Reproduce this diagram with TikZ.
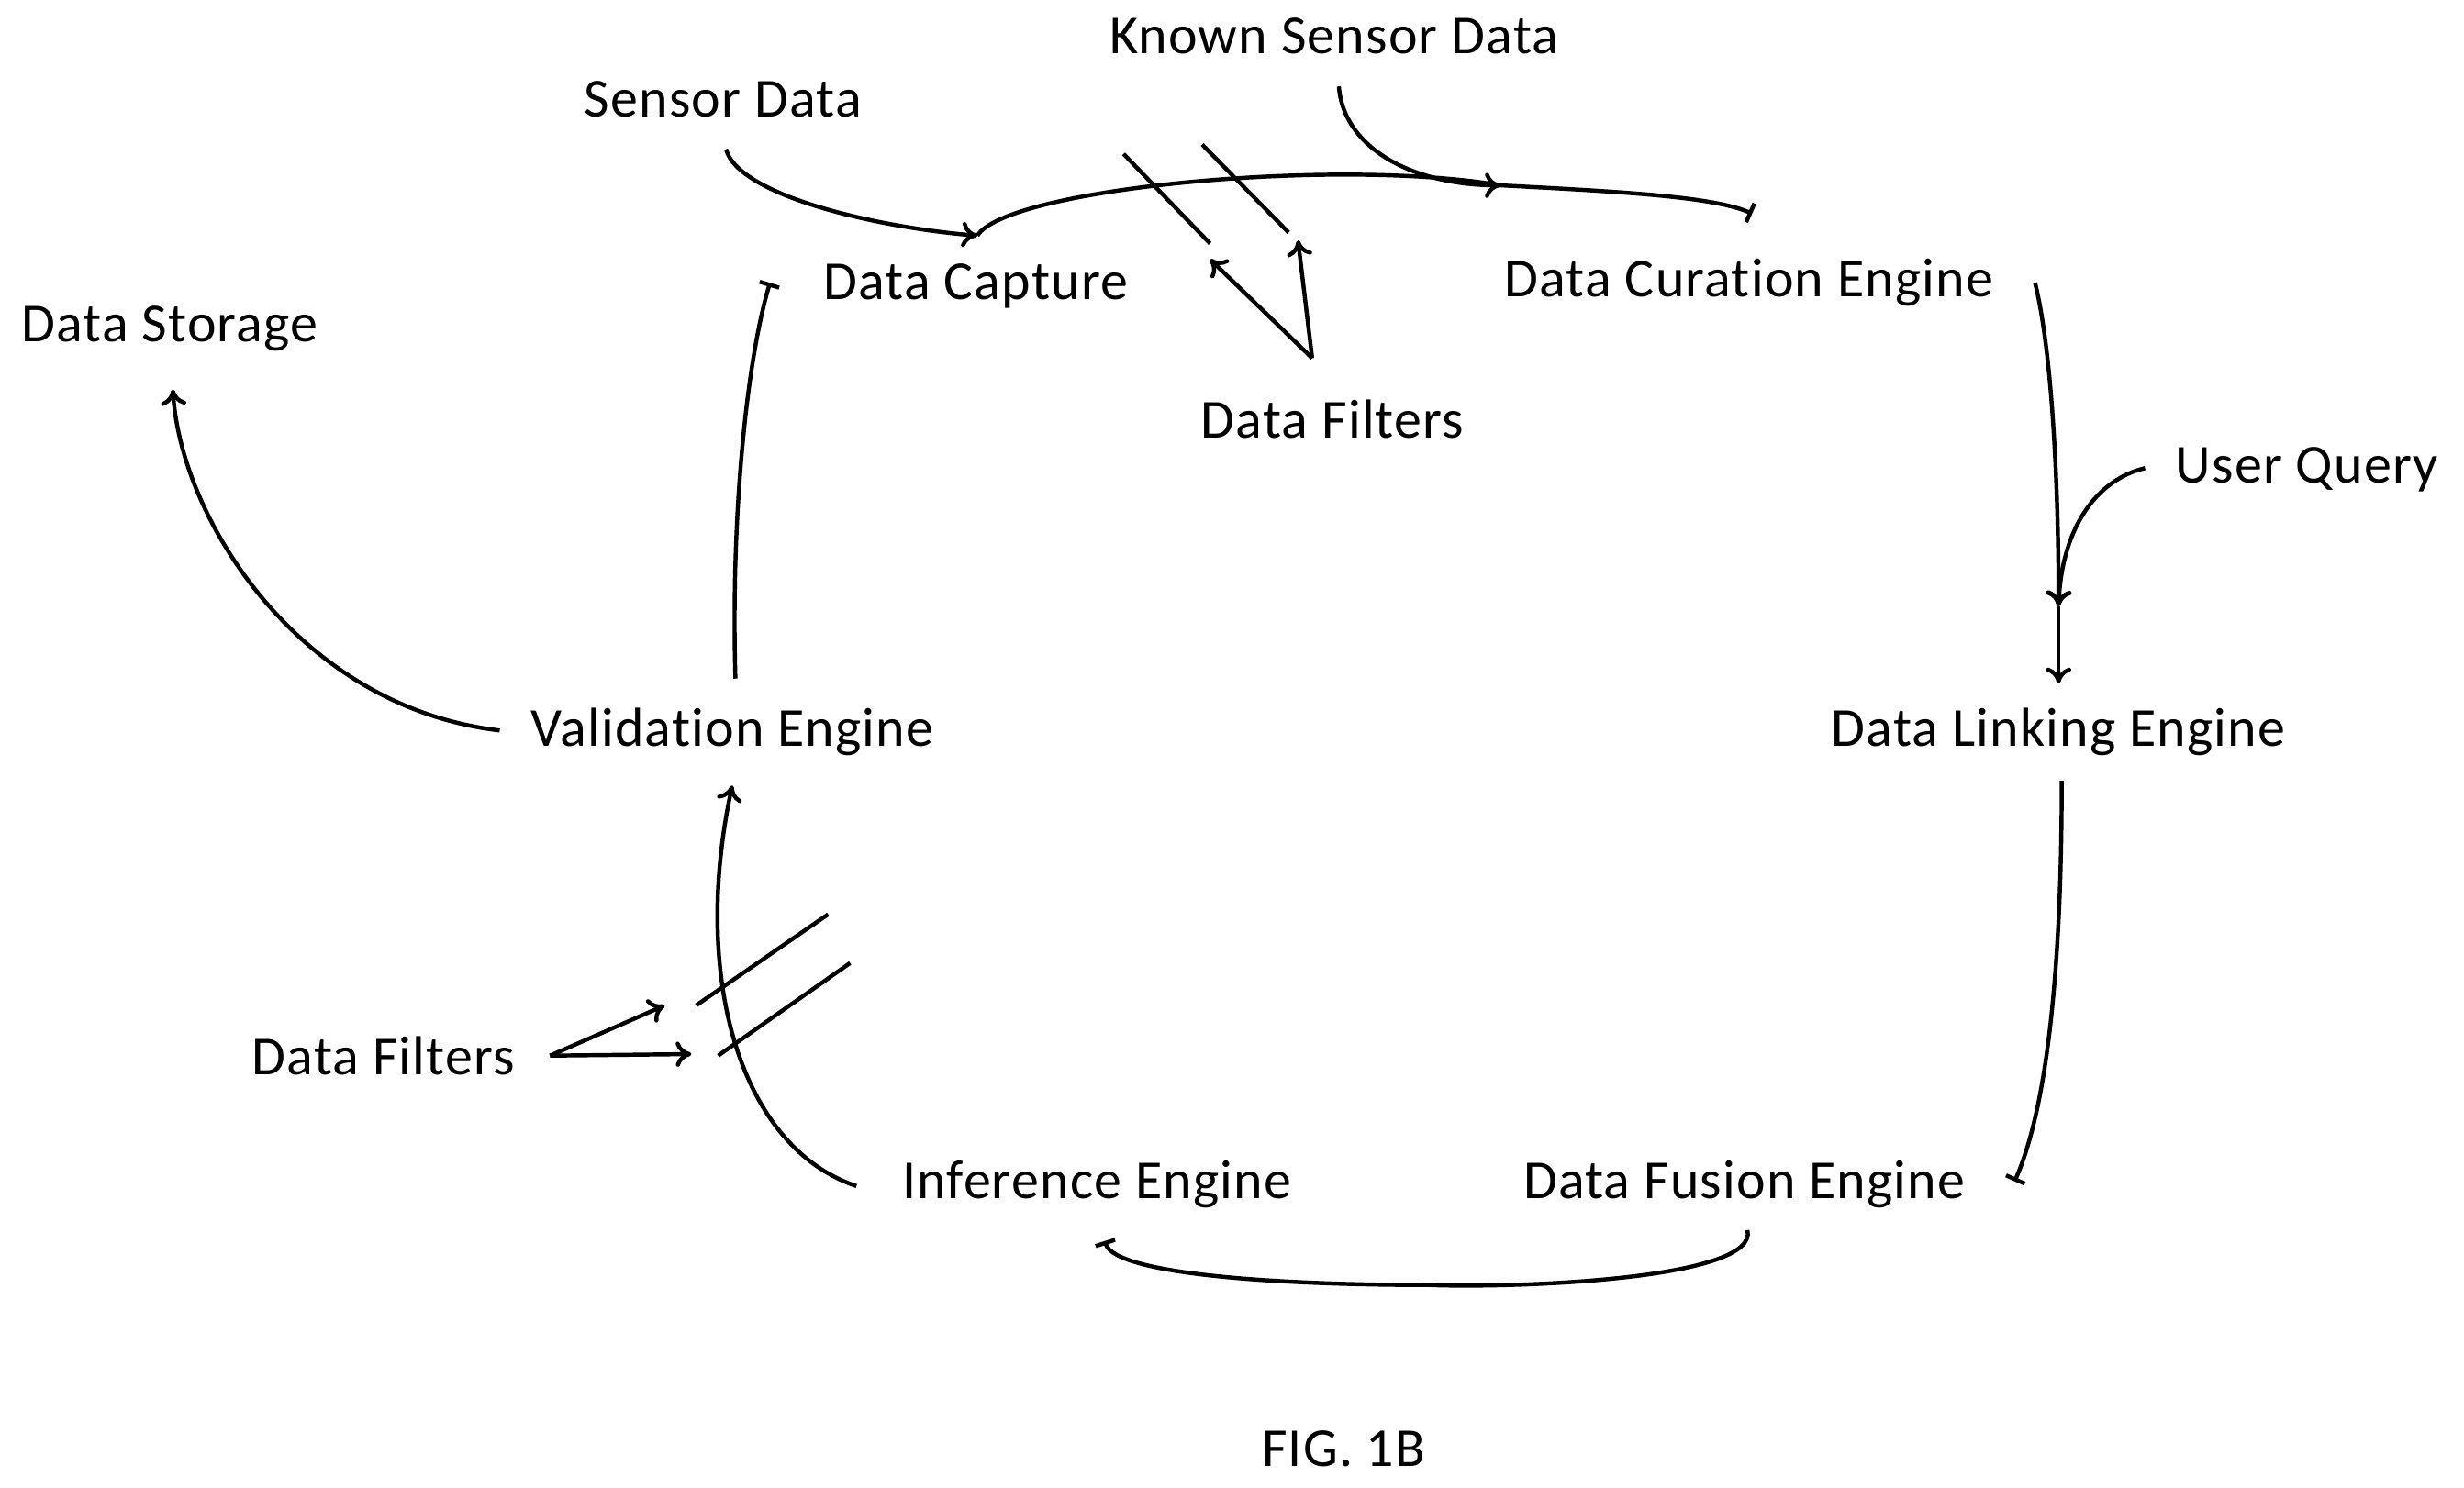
\documentclass[tikz,border=0pt]{standalone}
\usepackage{fontspec}
\setmainfont[Ligatures={NoCommon,NoRequired},LetterSpace=2]{Carlito}
\usetikzlibrary{arrows.meta}
\begin{document}
\begin{tikzpicture}[x=1pt,y=-1pt,
  lbl/.style={font=\fontsize{35}{35}\selectfont,inner sep=0pt},
  ln/.style={line width=2.6pt},
  arr/.style={ln,-{To[length=10pt,width=16pt]}},
  bar/.style={ln,-{Bar[width=13pt,line width=2.6pt]}}]
\useasboundingbox (0,0) rectangle (1568,947);
\node[lbl] (sd) at (460,63) {Sensor Data};
\node[lbl] (ksd) at (849,23) {Known Sensor Data};
\node[lbl] (dc) at (621,182) {Data Capture};
\node[lbl] (dce) at (1113,180) {Data Curation Engine};
\node[lbl] (uq) at (1468,299) {User Query};
\node[lbl] (dle) at (1310,466) {Data Linking Engine};
\node[lbl] (dfe) at (1110,754) {Data Fusion Engine};
\node[lbl] (ie) at (698,754) {Inference Engine};
\node[lbl] (ve) at (466,466) {Validation Engine};
\node[lbl] (ds) at (108,209) {Data Storage};
\node[lbl] (f1) at (848,267) {Data Filters};
\node[lbl] (f2) at (244,672) {Data Filters};
\node[lbl] (fig) at (855,922) {FIG. 1B};
\coordinate (c1) at (622,150);
\coordinate (c2) at (955,118);
\coordinate (q) at (1310,386);
\draw[arr] (462,95) .. controls (470,125) and (560,145) .. (c1);
\draw[arr] (852,55) .. controls (855,95) and (900,118) .. (c2);
\draw[bar] (c1) .. controls (640,120) and (850,100) .. (c2) .. controls (1030,122) and (1090,125) .. (1115,136);
\draw[arr] (1295,180) .. controls (1305,220) and (1310,300) .. (q);
\draw[arr] (1365,298) .. controls (1335,305) and (1312,335) .. (q);
\draw[arr] (q) -- (1310,435);
\draw[bar] (1312,497) .. controls (1312,600) and (1305,700) .. (1282,752);
\draw[bar] (1112,783) .. controls (1120,815) and (960,820) .. (910,818) .. controls (820,818) and (710,812) .. (703,790);
\draw[arr] (545,755) .. controls (470,730) and (440,620) .. (466,500);
\draw[bar] (468,432) .. controls (465,330) and (475,230) .. (490,180);
\draw[arr] (318,465) .. controls (190,450) and (115,330) .. (110,248);
\draw[ln] (715,98) -- (770,155);
\draw[ln] (765,92) -- (820,148);
\draw[arr] (835,228) -- (770,165);
\draw[arr] (835,228) -- (826,153);
\draw[ln] (443,640) -- (527,582);
\draw[ln] (457,672) -- (541,613);
\draw[arr] (350,672) -- (423,640);
\draw[arr] (350,672) -- (440,671);
\end{tikzpicture}
\end{document}
